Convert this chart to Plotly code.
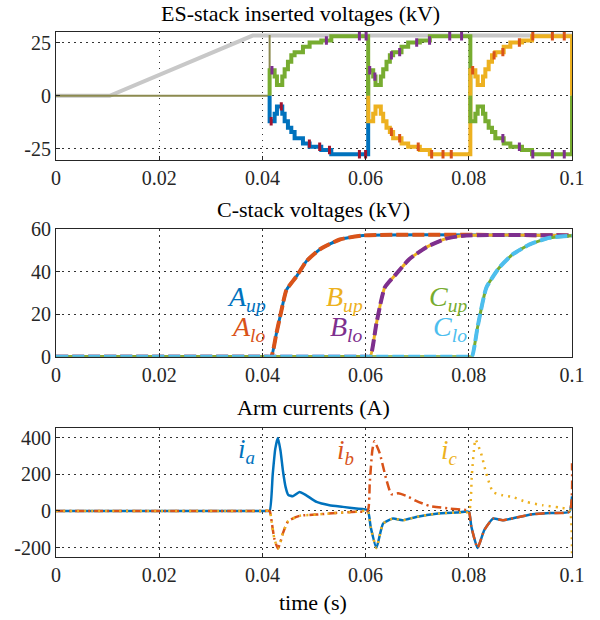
import plotly.graph_objects as go

# ---------------- data ----------------
x_ticks = [0, 0.02, 0.04, 0.06, 0.08, 0.1]
x_tick_text = ["0", "0.02", "0.04", "0.06", "0.08", "0.1"]
es_y_ticks = [-25, 0, 25]
es_y_text = ["-25", "0", "25"]
c_y_ticks = [0, 20, 40, 60]
c_y_text = ["0", "20", "40", "60"]
i_y_ticks = [-200, 0, 200, 400]
i_y_text = ["-200", "0", "200", "400"]

# ES-stack inserted voltages (kV)
ref_t = [0, 0.0104, 0.0381, 0.1]
ref_v = [0, 0, 28.3, 28.3]
seg_start = [0.0414, 0.0605, 0.0803]
seg_end = [0.0605, 0.0803, 0.1]
step_dt = [0, 0.00097, 0.00142, 0.00245, 0.00291, 0.00355, 0.0042, 0.00484, 0.00646, 0.00775, 0.01001, 0.01195]
top_levels = [12, 9, 5, 9, 12.5, 16, 19, 20.5, 23, 25, 26, 28]
bottom_levels = [-12, -8.5, -5, -8.5, -12, -15, -17, -20, -22.5, -24, -25.5, -27.5]
flick_top_dt = [[0.00045, 0.011, 0.0174, 0.0187],
                [0.0003, 0.0013, 0.0045, 0.0061, 0.0094, 0.0119, 0.0158, 0.0181],
                [0.00045, 0.0046, 0.0063, 0.0095, 0.0121, 0.0159, 0.0182]]
flick_bot_dt = [[0.0003, 0.00226, 0.0077, 0.0097, 0.0116, 0.0174, 0.0186],
                [0.0045, 0.0061, 0.0097, 0.0123, 0.0145, 0.0161],
                [0.0063, 0.0095, 0.0121, 0.0159, 0.0182]]

# C-stack voltages (kV)
t_A = [0, 0.0405, 0.0417, 0.0427, 0.0437, 0.04465, 0.0466, 0.0485, 0.0511, 0.0550, 0.0595, 0.1]
v_A_up = [0, 0, 0, 10.8, 21.9, 31.4, 37.8, 44.9, 50.5, 55.2, 57.1, 57.1]
v_A_lo = [0, 0, 0, 10.8, 21.9, 31.4, 37.8, 44.9, 50.5, 55.2, 57.1, 57.1]
t_B = [0, 0.0600, 0.0609, 0.0621, 0.0637, 0.0659, 0.0685, 0.0718, 0.0756, 0.0795, 0.1]
v_B_up = [0, 0, 0, 15.7, 32.5, 38.9, 46.0, 51.6, 55.6, 57.1, 57.1]
v_B_lo = [0, 0, 0, 15.7, 32.5, 38.9, 46.0, 51.6, 55.6, 57.1, 57.1]
t_C = [0, 0.0798, 0.0806, 0.0817, 0.0834, 0.0859, 0.0885, 0.0918, 0.0956, 0.1]
v_C_up = [0, 0, 0, 13.9, 32.5, 41.9, 48.2, 52.9, 56.0, 57.0]
v_C_lo = [0, 0, 0, 13.9, 32.5, 41.9, 48.2, 52.9, 56.0, 57.0]

# Arm currents (A)
t_ia = [0, 0.0405, 0.0414, 0.0420, 0.0425, 0.0430, 0.0435, 0.0440, 0.0445, 0.0450, 0.0459, 0.0472,
        0.0485, 0.0505, 0.0530, 0.0556, 0.0582, 0.0604, 0.0610, 0.0621, 0.0634, 0.0653,
        0.0672, 0.0698, 0.0737, 0.0776, 0.0800, 0.0805, 0.0817, 0.0830, 0.0847, 0.0866,
        0.0892, 0.0924, 0.0956, 0.0995, 0.1]
v_ia = [0, 0, 0, 200, 340, 398, 330, 215, 130, 88, 80, 103,
        85, 49, 31, 22, 13, 4, -90, -202, -69, -42,
        -51, -33, -15, -9, -5, -87, -202, -105, -42, -51,
        -36, -18, -11, -5, 80]
t_ib = [0, 0.0405, 0.0414, 0.0418, 0.0423, 0.0430, 0.0435, 0.0440, 0.0450, 0.0472, 0.0505, 0.0543,
        0.0582, 0.0604, 0.0608, 0.0613, 0.0617, 0.0627, 0.0640, 0.0650, 0.0663, 0.0679,
        0.0698, 0.0724, 0.0763, 0.0795, 0.0800, 0.0805, 0.0817, 0.0830, 0.0847, 0.0866,
        0.0892, 0.0924, 0.0956, 0.0995, 0.1]
v_ib = [0, 0, 0, -60, -150, -205, -170, -120, -56, -27, -20, -11,
        -5, 0, 150, 330, 380, 318, 173, 91, 96, 82,
        55, 27, 13, 5, 0, -87, -202, -105, -42, -51,
        -36, -18, -11, -5, 260]
t_ic = [0, 0.0405, 0.0414, 0.0418, 0.0423, 0.0430, 0.0435, 0.0440, 0.0450, 0.0472, 0.0505, 0.0543,
        0.0582, 0.0604, 0.0610, 0.0621, 0.0634, 0.0653, 0.0672, 0.0698, 0.0737, 0.0776,
        0.0800, 0.0806, 0.0813, 0.0824, 0.0834, 0.0847, 0.0866, 0.0885, 0.0911, 0.0943,
        0.0976, 0.0995, 0.1]
v_ic = [0, 0, 0, -60, -150, -205, -170, -120, -56, -27, -20, -11,
        -5, 0, -90, -202, -69, -42, -51, -33, -15, -9,
        -5, 200, 390, 312, 203, 103, 85, 76, 49, 31,
        18, 7, -240]

# ---------------- style ----------------
BLUE = "#0072BD"; ORANGE = "#D95319"; YELLOW = "#EDB120"; PURPLE = "#7E2F8E"
GREEN = "#77AC30"; LBLUE = "#4DBEEE"; DRED = "#A2142F"; GRAY = "#C8C8C8"; OLIVE = "#8C8A4F"
FONT = "Liberation Serif, Times New Roman, serif"
top_colors = [GREEN, GREEN, YELLOW]
top_flick_colors = [PURPLE, PURPLE, ORANGE]
bot_colors = [BLUE, YELLOW, GREEN]
bot_flick_colors = [DRED, ORANGE, PURPLE]

# page geometry helpers (page body margin removed in the html, see write_html below)
W, H = 600, 620
ML, MR, MT, MB = 56, 28, 0, 0
PLOT_W = W - ML - MR
PLOT_H = H - MT - MB
def py(p):   # screen y pixel -> paper fraction
    return 1 - (p - MT) / PLOT_H
def px_(p):  # screen x pixel -> paper fraction
    return (p - ML) / PLOT_W

fig = go.Figure()

def level_at(dt, levels):
    idx = 0
    for i, d in enumerate(step_dt):
        if d <= dt:
            idx = i
    return levels[idx]

# --- top panel ---
fig.add_trace(go.Scatter(x=ref_t, y=ref_v, mode="lines", line=dict(color=GRAY, width=4),
                         xaxis="x", yaxis="y", hoverinfo="skip"))
olive_x = [0, seg_start[0], seg_start[0], None]
olive_y = [0, 0, 28.5, None]
for e in seg_end:
    olive_x += [e, e, None]
    olive_y += [28.5, 0, None]
fig.add_trace(go.Scatter(x=olive_x, y=olive_y, mode="lines", line=dict(color=OLIVE, width=2),
                         xaxis="x", yaxis="y", hoverinfo="skip"))
for k in range(3):
    s, e = seg_start[k], seg_end[k]
    for levels, col in ((top_levels, top_colors[k]), (bottom_levels, bot_colors[k])):
        xs = [s] + [s + d for d in step_dt] + [e, e]
        ys = [0] + list(levels) + [levels[-1], 0]
        fig.add_trace(go.Scatter(x=xs, y=ys, mode="lines", line=dict(color=col, width=4, shape="hv"),
                                 xaxis="x", yaxis="y", hoverinfo="skip"))
    for dts, levels, col in ((flick_top_dt[k], top_levels, top_flick_colors[k]),
                             (flick_bot_dt[k], bottom_levels, bot_flick_colors[k])):
        fig.add_trace(go.Scatter(x=[s + d for d in dts], y=[level_at(d, levels) for d in dts],
                                 mode="markers",
                                 marker=dict(symbol="line-ns", size=6, line=dict(width=3, color=col)),
                                 xaxis="x", yaxis="y", hoverinfo="skip"))

# --- middle panel ---
dash = "12px,4px"
for t, vu, vl, cu, cl in ((t_A, v_A_up, v_A_lo, BLUE, ORANGE),
                          (t_B, v_B_up, v_B_lo, YELLOW, PURPLE),
                          (t_C, v_C_up, v_C_lo, GREEN, LBLUE)):
    fig.add_trace(go.Scatter(x=t, y=vu, mode="lines", line=dict(color=cu, width=3, shape="spline", smoothing=0.5),
                             xaxis="x2", yaxis="y2", hoverinfo="skip"))
    fig.add_trace(go.Scatter(x=t, y=vl, mode="lines", line=dict(color=cl, width=4, dash=dash, shape="spline", smoothing=0.5),
                             xaxis="x2", yaxis="y2", hoverinfo="skip"))

# --- bottom panel ---
fig.add_trace(go.Scatter(x=t_ia, y=v_ia, mode="lines", line=dict(color=BLUE, width=2.5, shape="spline", smoothing=0.5),
                         xaxis="x3", yaxis="y3", hoverinfo="skip"))
fig.add_trace(go.Scatter(x=t_ib, y=v_ib, mode="lines",
                         line=dict(color=ORANGE, width=2.5, dash="9px,4px,2px,4px", shape="spline", smoothing=0.5),
                         xaxis="x3", yaxis="y3", hoverinfo="skip"))
fig.add_trace(go.Scatter(x=t_ic, y=v_ic, mode="lines",
                         line=dict(color=YELLOW, width=2.5, dash="2px,5px", shape="spline", smoothing=0.5),
                         xaxis="x3", yaxis="y3", hoverinfo="skip"))

# ---------------- layout ----------------
GRIDDASH = "1.5px,4.5px"
TICKSIZE = 20

def xax(anchor):
    return dict(range=[0, 0.1], tickvals=x_ticks, ticktext=x_tick_text, anchor=anchor, domain=[0, 1],
                showline=True, linecolor="#262626", linewidth=1, mirror=True,
                ticks="inside", ticklen=4, tickcolor="#262626",
                showgrid=True, gridcolor="#333333", griddash=GRIDDASH, gridwidth=1,
                zeroline=False, tickfont=dict(family=FONT, size=TICKSIZE, color="#262626"))

def yax(anchor, rng, dom, tv, tt):
    return dict(range=rng, domain=dom, tickvals=tv, ticktext=tt, anchor=anchor,
                showline=True, linecolor="#262626", linewidth=1, mirror=True,
                ticks="inside", ticklen=4, tickcolor="#262626",
                showgrid=True, gridcolor="#333333", griddash=GRIDDASH, gridwidth=1,
                zeroline=False, tickfont=dict(family=FONT, size=TICKSIZE, color="#262626"))

annotations = []
def txt(x, y, s, size, color="#000000", xref="paper", yref="paper", xanchor="center"):
    annotations.append(dict(x=x, y=y, xref=xref, yref=yref, text=s, showarrow=False,
                            xanchor=xanchor, yanchor="middle",
                            font=dict(family=FONT, size=size, color=color)))

txt(px_(300), py(13), "ES-stack inserted voltages (kV)", 22)
txt(px_(313), py(210), "C-stack voltages (kV)", 22)
txt(px_(313), py(407), "Arm currents (A)", 22)
txt(px_(313), py(602), "time (s)", 22)

LBL = 28
txt(0.0410, 27.6, "<i>A</i><sub><i>up</i></sub>", LBL, BLUE, "x2", "y2", "right")
txt(0.0410, 13.5, "<i>A</i><sub><i>lo</i></sub>", LBL, ORANGE, "x2", "y2", "right")
txt(0.0598, 27.6, "<i>B</i><sub><i>up</i></sub>", LBL, YELLOW, "x2", "y2", "right")
txt(0.0598, 13.5, "<i>B</i><sub><i>lo</i></sub>", LBL, PURPLE, "x2", "y2", "right")
txt(0.0801, 27.6, "<i>C</i><sub><i>up</i></sub>", LBL, GREEN, "x2", "y2", "right")
txt(0.0801, 13.5, "<i>C</i><sub><i>lo</i></sub>", LBL, LBLUE, "x2", "y2", "right")

txt(0.0389, 327, "<i>i</i><sub><i>a</i></sub>", 27, BLUE, "x3", "y3", "right")
txt(0.0582, 322, "<i>i</i><sub><i>b</i></sub>", 27, ORANGE, "x3", "y3", "right")
txt(0.0782, 322, "<i>i</i><sub><i>c</i></sub>", 27, YELLOW, "x3", "y3", "right")

fig.update_layout(
    width=W, height=H,
    margin=dict(l=ML, r=MR, t=MT, b=MB, autoexpand=False),
    paper_bgcolor="white", plot_bgcolor="white",
    showlegend=False,
    font=dict(family=FONT),
    xaxis=xax("y"), yaxis=yax("x", [-30.2, 30.2], [py(160), py(31.5)], es_y_ticks, es_y_text),
    xaxis2=xax("y2"), yaxis2=yax("x2", [0, 60], [py(356.7), py(229.3)], c_y_ticks, c_y_text),
    xaxis3=xax("y3"), yaxis3=yax("x3", [-250, 451], [py(556.7), py(428.3)], i_y_ticks, i_y_text),
    annotations=annotations,
)

fig.write_html("out.html", config={"displayModeBar": False},
               post_script="document.body.style.margin='0px';")
